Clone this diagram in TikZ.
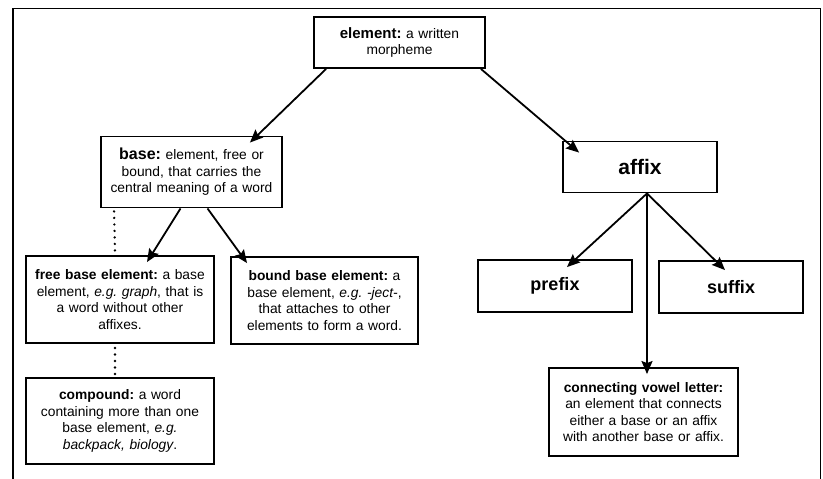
\documentclass[tikz,border=0pt]{standalone}
\usepackage{fontspec}
\setmainfont{Liberation Sans}
\usepackage{tikz}
\usetikzlibrary{arrows.meta, positioning}
\frenchspacing

\begin{document}
\begin{tikzpicture}[
  x=1pt, y=-1pt,
  font=\fontsize{13.8}{16.6}\selectfont,
  >={Stealth[length=13pt, width=11pt, inset=2pt]},
  box/.style={draw, line width=1.9pt, inner xsep=4pt, inner ysep=0pt, align=center},
  big/.style={box, font=\fontsize{18}{20}\selectfont\bfseries},
  link/.style={->, line width=1.8pt},
  dots/.style={line width=2.6pt, line cap=round, dash pattern=on 0pt off 6.5pt}
]
\useasboundingbox (0,0) rectangle (823,479);
% frame, open at the bottom
\draw[line width=1.9pt] (13,490) -- (13,8.5) -- (820.5,8.5) -- (820.5,490);

\node[box, text width=163pt, minimum height=51pt] (elem) at (399.5,42.5)
  {{\fontsize{15}{16.6}\selectfont\bfseries element:} a written\\morpheme};
\node[box, text width=173pt, minimum height=71pt] (base) at (191.5,172)
  {{\fontsize{16}{16.6}\selectfont\bfseries base:} element, free or\\bound, that carries the\\central meaning of a word};
\node[box, text width=146pt, minimum height=51pt, font=\fontsize{21}{24}\selectfont\bfseries] (affix) at (640,167) {affix};

\node[box, text width=180pt, minimum height=87pt] (free) at (120,299.5)
  {\textbf{free base element:} a base\\element, \textit{e.g. graph}, that is\\a word without other\\affixes.};
\node[box, text width=179pt, minimum height=87pt] (bound) at (324.5,300.5)
  {\textbf{bound base element:} a\\base element, \textit{e.g. -ject-},\\that attaches to other\\elements to form a word.};
\node[box, text width=180pt, minimum height=86pt] (comp) at (120,421)
  {\textbf{compound:} a word\\containing more than one\\base element, \textit{e.g.}\\\textit{backpack, biology}.};

\node[big, text width=146pt, minimum height=52pt] (prefix) at (555,286) {prefix};
\node[big, text width=136pt, minimum height=52pt] (suffix) at (731,287) {suffix};
\node[box, text width=181pt, minimum height=88pt] (conn) at (643.5,412)
  {\textbf{connecting vowel letter:}\\an element that connects\\either a base or an affix\\with another base or affix.};

\draw[link] ([xshift=13pt]elem.south west) -- ([xshift=-33pt, yshift=-7pt]base.north east);
\draw[link] ([xshift=-5pt]elem.south east) -- ([xshift=17pt, yshift=-12pt]affix.north west);
\draw[link] ([xshift=-11pt]base.south) -- ([xshift=27pt, yshift=-7pt]free.north);
\draw[link] ([xshift=16pt]base.south) -- ([xshift=17pt, yshift=-7pt]bound.north west);
\draw[link] ([xshift=7pt]affix.south) -- ([xshift=12pt, yshift=-8pt]prefix.north);
\draw[link] ([xshift=7pt]affix.south) -- ([xshift=-6pt, yshift=-10pt]suffix.north);
\draw[link] ([xshift=7pt]affix.south) -- ([xshift=3.5pt, yshift=-7pt]conn.north);

\draw[dots] ([xshift=14pt, yshift=-3pt]base.south west) -- ([xshift=-5pt, yshift=3pt]free.north);
\draw[dots] ([xshift=-5pt, yshift=-4pt]free.south) -- ([xshift=-5pt, yshift=3pt]comp.north);
\end{tikzpicture}
\end{document}
